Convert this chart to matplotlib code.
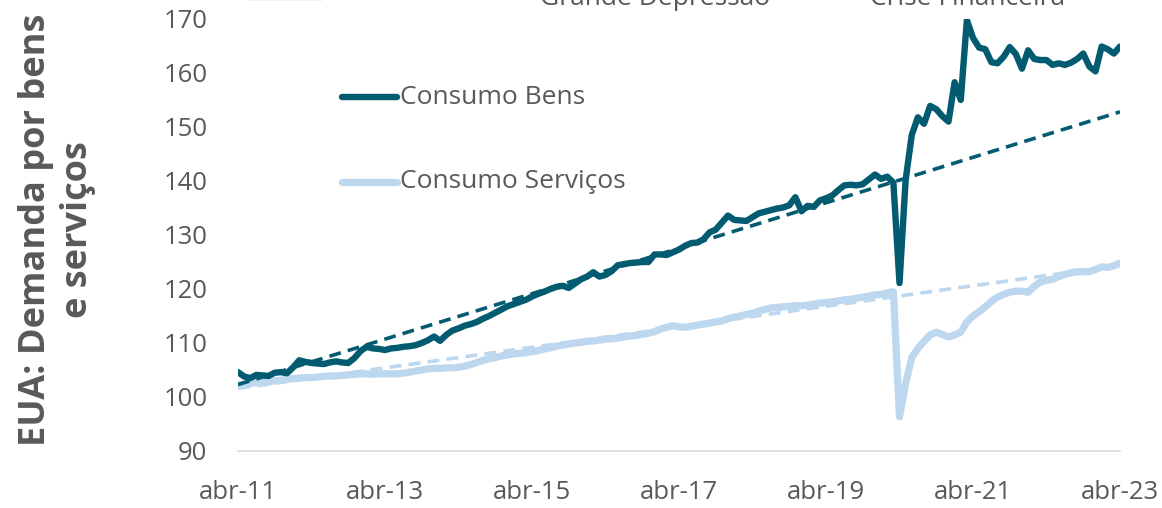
import numpy as np
import matplotlib
matplotlib.use('Agg')
import matplotlib.pyplot as plt
from matplotlib.lines import Line2D

plt.rcParams['font.family'] = ['Open Sans', 'DejaVu Sans']

# indices mensais, abr-11 ate abr-23
bens = [104.6, 103.8, 103.5, 104.1, 104.0, 103.9, 104.5, 104.6, 104.4, 105.5,
        106.8, 106.5, 106.3, 106.2, 106.1, 106.4, 106.6, 106.4, 106.3, 107.2,
        108.5, 109.3, 109.0, 108.9, 108.7, 109.0, 109.1, 109.3, 109.4, 109.6,
        110.0, 110.5, 111.2, 110.4, 111.5, 112.3, 112.7, 113.2, 113.5, 113.9,
        114.5, 115.0, 115.6, 116.2, 116.8, 117.2, 117.6, 118.0, 118.6, 119.1,
        119.5, 120.0, 120.4, 120.6, 120.2, 121.0, 121.8, 122.3, 123.1, 122.3,
        122.6, 123.3, 124.4, 124.6, 124.8, 124.9, 125.0, 125.0, 126.4, 126.4,
        126.3, 126.8, 127.3, 128.0, 128.5, 128.6, 129.2, 130.5, 131.0, 132.3,
        133.6, 132.8, 132.7, 132.6, 133.3, 134.0, 134.3, 134.6, 134.9, 135.1,
        135.5, 137.0, 134.4, 135.4, 135.2, 136.4, 136.8, 137.3, 138.3, 139.2,
        139.3, 139.2, 139.4, 140.3, 141.2, 140.4, 140.8, 139.7, 121.1, 140.2,
        148.5, 151.8, 150.6, 153.9, 153.3, 152.0, 151.0, 158.3, 155.0, 169.8,
        166.5, 164.7, 164.4, 162.0, 161.8, 163.0, 164.8, 163.5, 160.8, 164.2,
        162.6, 162.4, 162.4, 161.5, 161.8, 161.5, 161.9, 162.6, 163.6, 161.2,
        160.3, 164.9, 164.4, 163.6, 164.9]

servicos = [102.3, 102.4, 102.5, 102.7, 102.8, 102.8, 103.0, 103.1, 103.3, 103.4,
            103.5, 103.6, 103.6, 103.7, 103.8, 103.9, 103.9, 104.0, 104.1, 104.2,
            104.3, 104.3, 104.2, 104.3, 104.3, 104.3, 104.3, 104.4, 104.6, 104.8,
            105.0, 105.2, 105.3, 105.3, 105.4, 105.4, 105.5, 105.7, 106.0, 106.4,
            106.8, 107.1, 107.3, 107.6, 107.8, 108.0, 108.1, 108.2, 108.4, 108.6,
            108.9, 109.1, 109.4, 109.6, 109.8, 110.0, 110.1, 110.3, 110.4, 110.5,
            110.7, 110.8, 110.9, 111.1, 111.3, 111.4, 111.6, 111.8, 112.1, 112.6,
            112.9, 113.2, 113.0, 112.9, 113.1, 113.3, 113.5, 113.7, 113.9, 114.1,
            114.5, 114.8, 115.0, 115.3, 115.5, 115.9, 116.2, 116.5, 116.6, 116.7,
            116.8, 116.9, 116.9, 117.0, 117.2, 117.4, 117.5, 117.6, 117.8, 118.0,
            118.1, 118.3, 118.5, 118.7, 118.9, 119.0, 119.3, 119.5, 96.3, 102.5,
            107.3, 109.0, 110.3, 111.5, 112.0, 111.6, 111.1, 111.5, 112.0, 113.9,
            115.0, 115.8, 116.7, 117.7, 118.5, 119.0, 119.4, 119.6, 119.6, 119.4,
            120.5, 121.3, 121.6, 121.8, 122.3, 122.7, 123.0, 123.2, 123.2, 123.2,
            123.6, 124.1, 124.0, 124.3, 124.8]

# tendencias (inicio e fim)
tend_bens = [102.3, 152.8]
tend_serv = [101.6, 124.4]

rotulos_x = ['abr-11', 'abr-13', 'abr-15', 'abr-17', 'abr-19', 'abr-21', 'abr-23']

cor_bens = '#035B71'
cor_serv = '#BDD7EE'
cinza = '#595959'

W, H = 1162, 508
meses = np.arange(len(bens))

fig = plt.figure(figsize=(W / 100, H / 100), dpi=100)
ax = fig.add_axes([238 / W, 1 - 451 / H, (1120 - 238) / W, (451 - 19) / H])

ax.plot(meses, servicos, color=cor_serv, lw=5.2, solid_joinstyle='round', solid_capstyle='round', zorder=2)
ax.plot([meses[0], meses[-1]], tend_serv, color=cor_serv, lw=2.6, ls=(0, (3.3, 2.0)), zorder=3)
ax.plot(meses, bens, color=cor_bens, lw=4.6, solid_joinstyle='round', solid_capstyle='round', zorder=4)
ax.plot([meses[0], meses[-1]], tend_bens, color=cor_bens, lw=2.6, ls=(0, (3.3, 2.0)), zorder=5)

ax.set_xlim(0, 144)
ax.set_ylim(90, 170)
ax.set_yticks(range(90, 171, 10))
ax.set_xticks(np.arange(0, 145, 24))
ax.set_xticklabels(rotulos_x)
ax.tick_params(length=0, labelsize=18.5, colors=cinza)
ax.tick_params(axis='y', pad=22)
ax.tick_params(axis='x', pad=21)
for s in ['top', 'right', 'left']:
    ax.spines[s].set_visible(False)
ax.spines['bottom'].set_color('#D9D9D9')
ax.spines['bottom'].set_linewidth(1.2)

# legenda manual
def item(x0, x1, xt, yp, cor, lw, txt):
    fig.add_artist(Line2D([x0 / W, x1 / W], [1 - yp / H] * 2, color=cor, lw=lw, solid_capstyle='round'))
    fig.text(xt / W, 1 - yp / H, txt, fontsize=19, color=cinza, va='center', ha='left')

item(342, 397, 400, 97, cor_bens, 4.6, 'Consumo Bens')
item(342, 397, 400, 182, cor_serv, 5.2, 'Consumo Serviços')

# entradas cortadas no topo (como na imagem original)
fig.add_artist(Line2D([250 / W, 320 / W], [1 + 1 / H] * 2, color='#F6F1EA', lw=3))
fig.text(345 / W, 1 - 0.5 / H, 'COVID-19', fontsize=19, color=cinza, va='baseline')
fig.text(540 / W, 1 - 5 / H, 'Grande Depressão', fontsize=19, color=cinza, va='baseline')
fig.text(870 / W, 1 - 5 / H, 'Crise Financeira', fontsize=19, color=cinza, va='baseline')

fig.text(57 / W, 1 - 230 / H, 'EUA: Demanda por bens\ne serviços', rotation=90,
         fontsize=26, fontweight='bold', color=cinza, ha='center', va='center',
         multialignment='center', linespacing=1.2)

fig.savefig('out.png', dpi=100)
